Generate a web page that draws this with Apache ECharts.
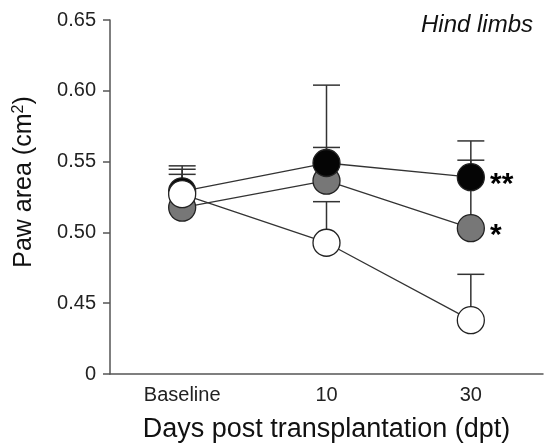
<!DOCTYPE html>
<html>
<head>
<meta charset="utf-8">
<script src="https://cdn.jsdelivr.net/npm/echarts@6/dist/echarts.min.js"></script>
<style>
html,body{margin:0;padding:0;background:#fff;}
#chart{width:544px;height:448px;}
</style>
</head>
<body>
<div id="chart"></div>
<script>
const categories = ['Baseline', '10', '30'];
const yTicks = [0.40, 0.45, 0.50, 0.55, 0.60, 0.65];
const yTickLabels = ['0', '0.45', '0.50', '0.55', '0.60', '0.65'];

const grayMean = [0.5175, 0.5365, 0.503];
const grayUpper = [0.541, 0.604, 0.5646];
const blackMean = [0.529, 0.549, 0.539];
const blackUpper = [0.5446, 0.560, 0.551];
const whiteMean = [0.527, 0.4927, 0.438];
const whiteUpper = [0.547, 0.5217, 0.4704];

const graySig = ['', '', '*'];
const blackSig = ['', '', '**'];
const whiteSig = ['', '', ''];

const FONT = '"Liberation Sans", Arial, sans-serif';
const groups = [
  {name: 'gray', mean: grayMean, upper: grayUpper, sig: graySig, fill: '#777777'},
  {name: 'black', mean: blackMean, upper: blackUpper, sig: blackSig, fill: '#050505'},
  {name: 'white', mean: whiteMean, upper: whiteUpper, sig: whiteSig, fill: '#ffffff'}
];

const series = [];
groups.forEach(function (g) {
  series.push({
    type: 'line', name: g.name + '-line', data: g.mean, showSymbol: false, symbol: 'none',
    lineStyle: {color: '#333', width: 1.3}, z: 2, silent: true, animation: false
  });
});
groups.forEach(function (g) {
  series.push({
    type: 'custom', name: g.name + '-err', z: 3, animation: false, silent: true,
    data: g.mean.map(function (m, i) { return [i, m, g.upper[i]]; }),
    renderItem: function (params, api) {
      const p0 = api.coord([api.value(0), api.value(1)]);
      const p1 = api.coord([api.value(0), api.value(2)]);
      const hw = 13.5;
      const st = {stroke: '#333', lineWidth: 1.5, fill: null};
      return {type: 'group', children: [
        {type: 'line', shape: {x1: p0[0], y1: p0[1], x2: p1[0], y2: p1[1]}, style: st},
        {type: 'line', shape: {x1: p1[0] - hw, y1: p1[1], x2: p1[0] + hw, y2: p1[1]}, style: st}
      ]};
    }
  });
});
groups.forEach(function (g, gi) {
  series.push({
    type: 'scatter', name: g.name, z: 5 + gi, animation: false,
    symbol: 'circle', symbolSize: 27,
    itemStyle: {color: g.fill, borderColor: '#222', borderWidth: 1.3, opacity: 1},
    data: g.mean.map(function (m, i) {
      const d = {value: [i, m]};
      if (g.sig[i]) {
        d.label = {show: true, formatter: g.sig[i], position: 'right', distance: 5,
          offset: [0, 8], fontSize: 30, fontWeight: 'bold', color: '#000', fontFamily: FONT};
      }
      return d;
    })
  });
});

const chart = echarts.init(document.getElementById('chart'), null, {renderer: 'canvas'});
chart.setOption({
  animation: false,
  backgroundColor: '#fff',
  grid: {left: 110, right: 1, top: 20, bottom: 74},
  title: {
    text: 'Hind limbs', right: 6, top: 8,
    textStyle: {fontFamily: FONT, fontStyle: 'italic', fontWeight: 'normal', fontSize: 24, color: '#111'}
  },
  xAxis: {
    type: 'category', data: categories, boundaryGap: true,
    axisLine: {lineStyle: {color: '#555', width: 1.5}},
    axisTick: {show: false},
    axisLabel: {fontFamily: FONT, fontSize: 20, color: '#222', margin: 11},
    name: 'Days post transplantation (dpt)', nameLocation: 'middle', nameGap: 42,
    nameTextStyle: {fontFamily: FONT, fontSize: 27, color: '#111'}
  },
  yAxis: {
    type: 'value', min: 0.40, max: 0.65, interval: 0.05,
    axisLine: {show: true, lineStyle: {color: '#555', width: 1.5}},
    axisTick: {show: true, length: 7, lineStyle: {color: '#555', width: 1.5}},
    splitLine: {show: false},
    axisLabel: {
      fontFamily: FONT, fontSize: 20, color: '#222', margin: 14,
      formatter: function (v) {
        for (let i = 0; i < yTicks.length; i++) {
          if (Math.abs(v - yTicks[i]) < 1e-6) return yTickLabels[i];
        }
        return '';
      }
    }
  },
  graphic: [{
    type: 'text', x: 24, y: 182, rotation: Math.PI / 2,
    style: {
      text: 'Paw area (cm{sup|2})', fontFamily: FONT, fontSize: 25, fill: '#111',
      align: 'center', verticalAlign: 'middle',
      rich: {sup: {fontSize: 16, fontFamily: FONT, fill: '#111', padding: [0, 0, 10, 0]}}
    }
  }],
  series: series
});
</script>
</body>
</html>
